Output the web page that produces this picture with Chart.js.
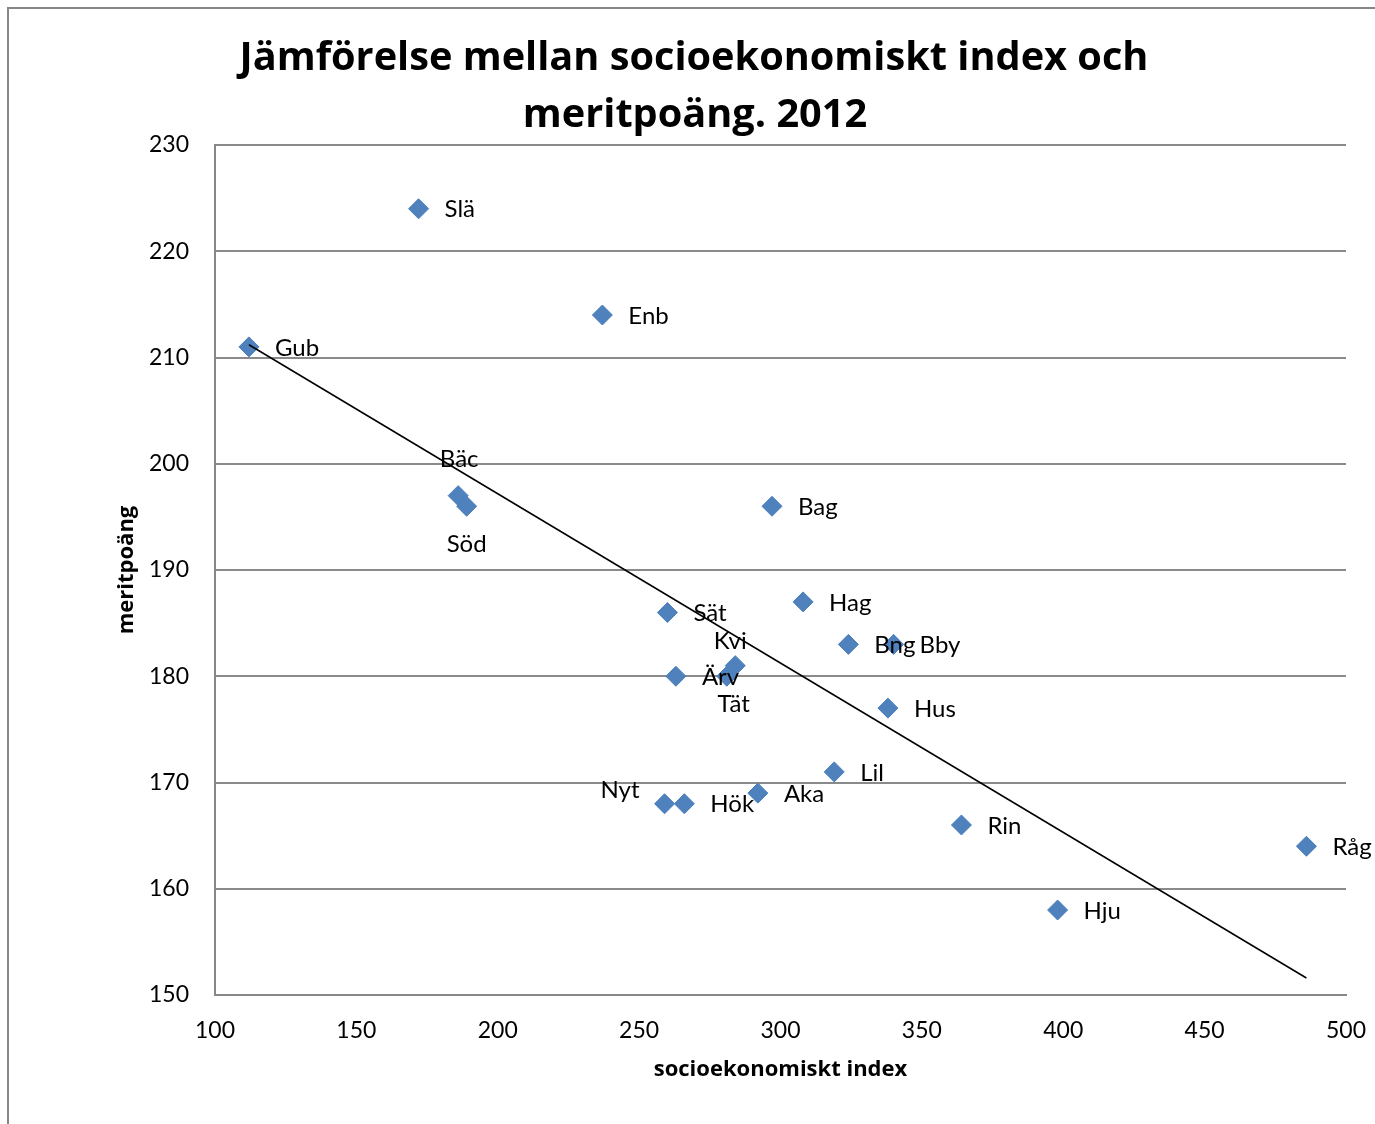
<!DOCTYPE html>
<html>
<head>
<meta charset="utf-8">
<script src="https://cdn.jsdelivr.net/npm/chart.js@4"></script>
<style>
html, body { margin: 0; padding: 0; background: #fff; }
#frame { position: absolute; left: 7px; top: 7px; width: 1400px; height: 1200px;
  border-left: 2px solid #878787; border-top: 2px solid #878787; }
#wrap { position: absolute; left: 0; top: 0; width: 1375px; height: 1124px; }
</style>
</head>
<body>
<div id="frame"></div>
<div id="wrap"><canvas id="plotHere" width="1375" height="1124"></canvas></div>
<script>
// school abbreviations / skolor
const schools = ["Gub", "Slä", "Enb", "Bäc", "Söd", "Bag", "Sät", "Hag", "Kvi", "Ärv", "Tät",
                 "Bng", "Bby", "Hus", "Lil", "Aka", "Nyt", "Hök", "Rin", "Hju", "Råg"];
// socioeconomic index (x) / socioekonomiskt index
const socioIndex = [112, 172, 237, 186, 189, 297, 260, 308, 284, 263, 281,
                    324, 340, 338, 319, 292, 259, 266, 364, 398, 486];
// merit points (y) / meritpoäng
const meritPoints = [211, 224, 214, 197, 196, 196, 186, 187, 181, 180, 180,
                     183, 183, 177, 171, 169, 168, 168, 166, 158, 164];
// linear trend line end points
const trendX = [112, 486];
const trendY = [211.2, 151.6];

const titleLines = ["Jämförelse mellan socioekonomiskt index och", "meritpoäng. 2012"];
const xTitle = "socioekonomiskt index";
const yTitle = "meritpoäng";

const FONT = "Lato, 'Open Sans', sans-serif";
const BOLD_FONT = "'Open Sans', Lato, sans-serif";

// where a label goes if not to the right of its point
const labelPlacement = {
  "Bäc": { dx: 1, dy: -36, align: "center" },
  "Söd": { dx: 0, dy: 38, align: "center" },
  "Kvi": { dx: -5, dy: -24, align: "center" },
  "Tät": { dx: 7, dy: 28, align: "center" },
  "Nyt": { dx: -25, dy: -13, align: "right" }
};

const pointLabels = {
  id: "pointLabels",
  afterDatasetsDraw(chart) {
    const ctx = chart.ctx;
    const meta = chart.getDatasetMeta(0);
    ctx.save();
    ctx.font = "24px " + FONT;
    ctx.fillStyle = "#000";
    ctx.textBaseline = "middle";
    meta.data.forEach(function (pt, i) {
      const p = labelPlacement[schools[i]] || { dx: 26, dy: 1, align: "left" };
      ctx.textAlign = p.align;
      ctx.fillText(schools[i], pt.x + p.dx, pt.y + p.dy);
    });
    ctx.restore();
  }
};

const chartTitle = {
  id: "chartTitle",
  afterDraw(chart) {
    const ctx = chart.ctx;
    ctx.save();
    ctx.font = "bold 40px " + BOLD_FONT;
    // fit first line to the width it has in the original (about 909 px)
    const w = ctx.measureText(titleLines[0]).width;
    const size = Math.min(44, 40 * 909 / w);
    ctx.font = "bold " + size.toFixed(1) + "px " + BOLD_FONT;
    ctx.fillStyle = "#000";
    ctx.textAlign = "center";
    ctx.textBaseline = "alphabetic";
    ctx.fillText(titleLines[0], 694, 70);
    ctx.fillText(titleLines[1], 695, 127);
    ctx.restore();
  }
};

const scatterData = socioIndex.map(function (x, i) { return { x: x, y: meritPoints[i] }; });
const trendData = trendX.map(function (x, i) { return { x: x, y: trendY[i] }; });

new Chart(document.getElementById("plotHere").getContext("2d"), {
  type: "scatter",
  data: {
    datasets: [{
      data: scatterData,
      pointStyle: "rectRot",
      radius: 10,
      hoverRadius: 10,
      borderWidth: 1,
      borderColor: "#4a7ebb",
      backgroundColor: "#4f81bd",
      order: 1
    }, {
      type: "line",
      data: trendData,
      borderColor: "#000",
      borderWidth: 1.5,
      pointRadius: 0,
      fill: false,
      order: 0
    }]
  },
  options: {
    responsive: false,
    animation: false,
    devicePixelRatio: 1,
    layout: { padding: { top: 145, right: 29, left: 0, bottom: 0 } },
    plugins: { legend: { display: false }, tooltip: { enabled: false }, title: { display: false } },
    scales: {
      x: {
        type: "linear",
        min: 100, max: 500,
        afterFit: function (s) { s.height = 129; s.paddingLeft = 0; s.paddingRight = 0; },
        ticks: { stepSize: 50, padding: 22, color: "#000", font: { family: FONT, size: 23 } },
        grid: { display: false, drawTicks: false },
        border: { display: true, color: "#878787", width: 2 },
        title: { display: true, text: xTitle, color: "#000",
                 font: { family: BOLD_FONT, size: 22, weight: "bold" }, padding: { top: 0, bottom: 41 } }
      },
      y: {
        min: 150, max: 230,
        afterFit: function (s) { s.width = 215; s.paddingTop = 0; s.paddingBottom = 0; },
        ticks: { stepSize: 10, padding: 26, color: "#000", font: { family: FONT, size: 23 } },
        grid: { color: "#8a8a8a", lineWidth: 2, drawTicks: false },
        border: { display: true, color: "#878787", width: 2 },
        title: { display: true, text: yTitle, color: "#000",
                 font: { family: BOLD_FONT, size: 22, weight: "bold" }, padding: { top: 114, bottom: 0 } }
      }
    }
  },
  plugins: [pointLabels, chartTitle]
});
</script>
</body>
</html>
